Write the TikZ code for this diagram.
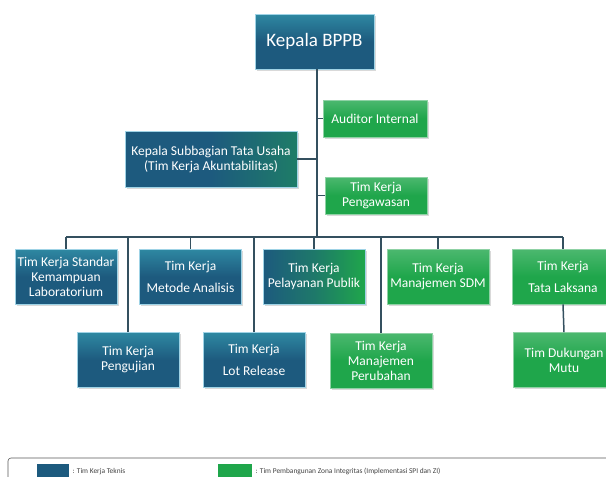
\documentclass[tikz,border=0pt]{standalone}
\usepackage{fontspec}
\setmainfont{Carlito}
\usetikzlibrary{shadows}
\definecolor{teknis}{HTML}{1D5A7E}
\definecolor{zona}{HTML}{1FA64B}
\definecolor{garis}{HTML}{34505F}
\definecolor{tepi}{HTML}{9FD3E6}

\begin{document}
\begin{tikzpicture}[x=1pt, y=-1pt,
    box/.style={minimum width=102pt, minimum height=55pt, inner sep=0pt, align=center, text=white,
        font=\fontsize{13.5}{15}\selectfont, draw=tepi, line width=0.6pt,
        drop shadow={shadow xshift=1.5pt, shadow yshift=-1.5pt, opacity=0.3}},
    biru/.style={box, top color=teknis!80!cyan!90!white, bottom color=teknis, middle color=teknis},
    hijau/.style={box, draw=zona!50!white, top color=zona!80!white, bottom color=zona, middle color=zona},
    campur/.style={box, left color=teknis, right color=zona, middle color=teknis!60!zona},
    garisan/.style={draw=garis, line width=1.5pt},
    swatch/.style={minimum width=32pt, minimum height=15pt, inner sep=0pt}]
    \clip (0, 0) rectangle (606, 477);
    \useasboundingbox (0, 0) rectangle (606, 477);
    \coordinate (bus) at (317, 237);
    \node [biru, minimum width=119pt, font=\fontsize{19}{21}\selectfont] (kepala) at (314.5, 41.5) {Kepala BPPB};
    \node [hijau, minimum width=104pt, minimum height=37pt] (auditor) at (375, 118.5) {Auditor Internal};
    \node [box, minimum width=172pt, minimum height=56pt, left color=teknis, right color=teknis!55!zona, middle color=teknis] (subbag) at (211, 159) {Kepala Subbagian Tata Usaha\\(Tim Kerja Akuntabilitas)};
    \node [hijau, minimum height=37pt] (pengawasan) at (376, 195.5) {Tim Kerja\\Pengawasan};
    \node [biru] (standar) at (66, 276.5) {Tim Kerja Standar\\Kemampuan\\Laboratorium};
    \node [biru] (metode) at (190.5, 276.5) {Tim Kerja\\[7pt]Metode Analisis};
    \node [campur] (pelayanan) at (314, 276.5) {Tim Kerja\\Pelayanan Publik};
    \node [hijau] (sdm) at (438, 276.5) {Tim Kerja\\Manajemen SDM};
    \node [hijau] (tatalaksana) at (563, 276.5) {Tim Kerja\\[7pt]Tata Laksana};
    \node [biru] (pengujian) at (128, 360) {Tim Kerja\\Pengujian};
    \node [biru] (lotrelease) at (254, 360) {Tim Kerja\\[7pt]Lot Release};
    \node [hijau] (perubahan) at (381, 360.5) {Tim Kerja\\Manajemen\\Perubahan};
    \node [hijau] (mutu) at (564, 360) {Tim Dukungan\\Mutu};
    \draw [garisan] (kepala.south -| bus) -- (bus);
    \draw [garisan] (auditor.west) -- (auditor.west -| bus);
    \draw [garisan] (subbag.east) -- (subbag.east -| bus);
    \draw [garisan] (pengawasan.west) -- (pengawasan.west -| bus);
    \draw [garisan] (standar.north |- bus) -- (tatalaksana.north |- bus);
    \foreach \tim in {standar, metode, pelayanan, sdm, tatalaksana, pengujian, lotrelease, perubahan}
        \draw [garisan] (\tim.north) -- (\tim.north |- bus);
    \draw [garisan] (tatalaksana.south) -- (mutu.north);
    \draw [gray!70!black, line width=0.6pt, rounded corners=3pt] (8, 458) rectangle (620, 495);
    \node [swatch, fill=teknis] (legteknis) at (53, 471.5) {};
    \node [right, font=\fontsize{7.4}{8}\selectfont, text=black!75] at (legteknis.east) {: Tim Kerja Teknis};
    \node [swatch, fill=zona, minimum width=34pt] (legzona) at (235, 471.5) {};
    \node [right, font=\fontsize{7.4}{8}\selectfont, text=black!75] at (legzona.east) {: Tim Pembangunan Zona Integritas (Implementasi SPI dan ZI)};
\end{tikzpicture}
\end{document}
